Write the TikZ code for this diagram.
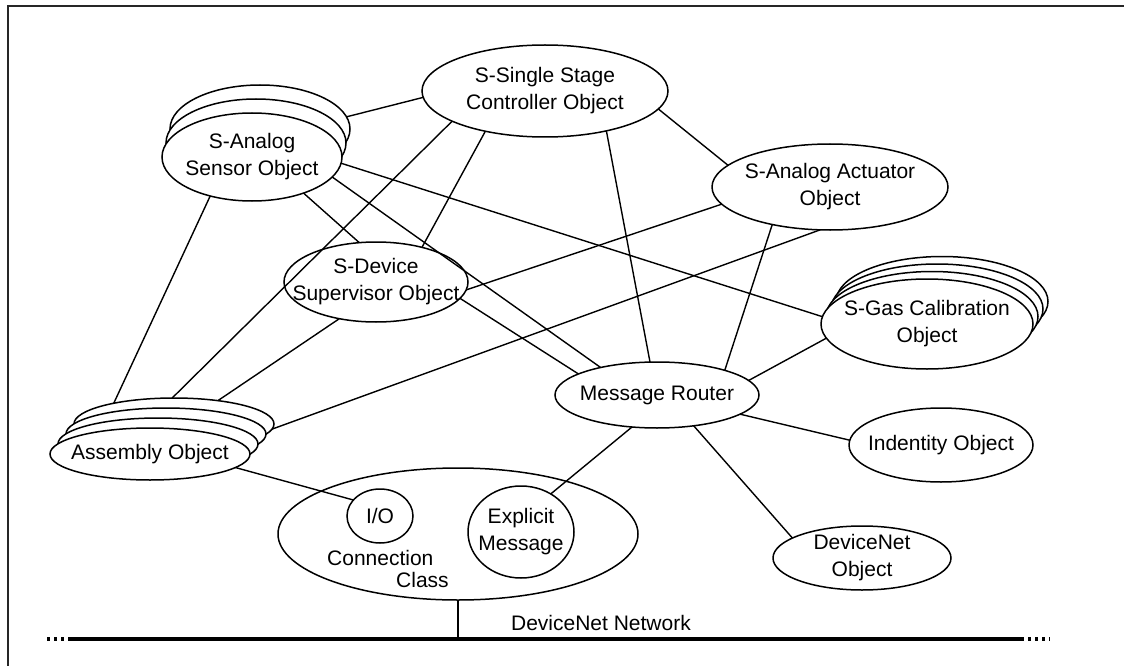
\documentclass[tikz,border=0pt]{standalone}
\usepackage{fontspec}
\setmainfont{Liberation Sans}
\usetikzlibrary{shapes.geometric}
\newcommand{\dnfont}{\fontsize{21}{27}\selectfont}
\begin{document}
\begin{tikzpicture}[x=1pt,y=-1pt,
  obj/.style={ellipse, draw=black, fill=white, line width=1.5pt, inner sep=0pt, outer sep=0pt},
  link/.style={line width=1.4pt, draw=black},
  txt/.style={inner sep=0pt},
  every node/.append style={font=\dnfont},
  every label/.append style={align=center, inner sep=0pt}]
\useasboundingbox (0,0) rectangle (1124,666);
% frame
\draw[line width=2pt, black!85] (8,666) -- (8,6) -- (1124,6);

% S-Single Stage Controller
\node[obj, minimum width=246pt, minimum height=92pt,
  label={center:{S-Single Stage\\Controller Object}}] (ssc) at (545,91) {};
% S-Analog Sensor (stacked)
\node[obj, minimum width=180pt, minimum height=88pt] (sensorB2) at (260,129) {};
\node[obj, minimum width=180pt, minimum height=88pt] (sensorB1) at (256,143) {};
\node[obj, minimum width=180pt, minimum height=88pt,
  label={center:{S-Analog\\Sensor Object}}] (sensor) at (252,157) {};
% S-Analog Actuator
\node[obj, minimum width=236pt, minimum height=86pt,
  label={center:{S-Analog Actuator\\Object}}] (act) at (830,187) {};
% S-Device Supervisor
\node[obj, minimum width=184pt, minimum height=80pt,
  label={center:{S-Device\\Supervisor Object}}] (sup) at (376,282) {};
% S-Gas Calibration (stacked)
\node[obj, minimum width=212pt, minimum height=90pt] (gasB3) at (942,301.5) {};
\node[obj, minimum width=212pt, minimum height=90pt] (gasB2) at (937,309) {};
\node[obj, minimum width=212pt, minimum height=90pt] (gasB1) at (932,316.5) {};
\node[obj, minimum width=212pt, minimum height=90pt,
  label={center:{S-Gas Calibration\\Object}}] (gas) at (927,324) {};
% Assembly (stacked)
\node[obj, minimum width=200pt, minimum height=52pt] (asmB3) at (174,424) {};
\node[obj, minimum width=200pt, minimum height=52pt] (asmB2) at (166,434) {};
\node[obj, minimum width=200pt, minimum height=52pt] (asmB1) at (158,444) {};
\node[obj, minimum width=200pt, minimum height=52pt,
  label={center:{Assembly Object}}] (asm) at (150,454) {};
% Message Router
\node[obj, minimum width=204pt, minimum height=66pt,
  label={center:{Message Router}}] (mr) at (657,395) {};
% Indentity Object
\node[obj, minimum width=184pt, minimum height=74pt,
  label={center:{Indentity Object}}] (ident) at (941,445) {};
% DeviceNet Object
\node[obj, minimum width=178pt, minimum height=64pt,
  label={center:{DeviceNet\\Object}}] (dno) at (862,558) {};
% Connection Class
\node[obj, minimum width=360pt, minimum height=132pt] (cc) at (458,534) {};
\node[obj, minimum width=66pt, minimum height=54pt,
  label={center:{I/O}}] (io) at (380,516) {};
\node[obj, minimum width=106pt, minimum height=92pt,
  label={center:{Explicit\\Message}}] (expl) at (521,532) {};
\node[txt, anchor=base west] (ccT1) at (327,565) {Connection};
\node[txt, anchor=base west] (ccT2) at (396,587) {Class};

% network
\coordinate (tap) at (458,639);
\coordinate (netL) at (71,639);
\coordinate (netR) at (1021,639);
\coordinate (netLd) at (47,639);
\coordinate (netRd) at (1050,639);
\draw[line width=3.5pt] (netL) -- (netR);
\draw[line width=3.5pt, dash pattern=on 3pt off 4pt] (netLd) -- (netL);
\draw[line width=3.5pt, dash pattern=on 3pt off 4pt] (netR) -- (netRd);
\draw[line width=2pt] (cc.south) -- (tap);
\node[txt, anchor=base] (netlabel) at (601,630) {DeviceNet Network};

% connectors
\draw[link] (sensorB2.8) -- (ssc.183);
\draw[link] (sensor.-35) -- (sup.113);
\draw[link] (sensor.-14) -- (mr.154);
\draw[link] (sensor.-4) -- (gas.176);
\draw[link] (sensor.223) -- (asmB3.161);
\draw[link] (ssc.198) -- (asmB3.94);
\draw[link] (ssc.214) -- (sup.37);
\draw[link] (ssc.-33) -- (mr.102);
\draw[link] (ssc.-9) -- (act.168);
\draw[link] (act.189) -- (sup.-5);
\draw[link] (act.257) -- (asmB3.-3);
\draw[link] (act.213) -- (mr.20);
\draw[link] (sup.225) -- (asmB3.28);
\draw[link] (sup.-11) -- (mr.165);
\draw[link] (gas.188) -- (mr.9);
\draw[link] (mr.-13) -- (ident.177);
\draw[link] (mr.-40) -- (dno.164);
\draw[link] (mr.232) -- (expl.52);
\draw[link] (asm.-9) -- (io.149);
\end{tikzpicture}
\end{document}
